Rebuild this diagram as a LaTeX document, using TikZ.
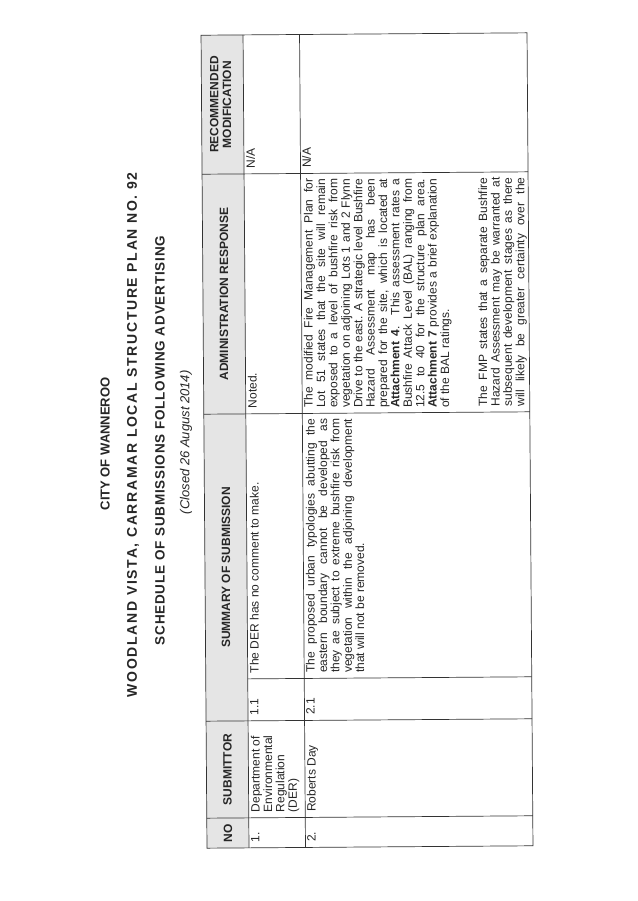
\documentclass[tikz,border=0pt]{standalone}
\usepackage{fontspec}
\setmainfont{Liberation Sans}
\newcommand{\jl}[2]{\makebox[#1][s]{#2}}
\begin{document}
\begin{tikzpicture}[x=1pt,y=-1pt,
  grid/.style={draw=black!80,line width=0.7pt},
  hdr/.style={rotate=90,font=\fontsize{12}{12.8}\selectfont\bfseries,align=center,inner sep=0pt,text=black!85},
  cell/.style={rotate=90,anchor=north west,font=\fontsize{12}{12.4}\selectfont,align=left,inner sep=0pt,text=black!85},
  ttl/.style={rotate=90,font=\fontsize{13}{14}\selectfont\bfseries,inner sep=0pt,text=black!85}]
\useasboundingbox (0,0) rectangle (637,901);
\fill[white] (0,0) rectangle (637,901);
\begin{scope}[rotate around={0.42:(367,440)}]
% titles
\node[ttl] (t1) at (105,442) {CITY OF WANNEROO};
\node[ttl,font=\fontsize{14}{15}\selectfont\bfseries] (t2) at (133,433) {\addfontfeatures{LetterSpace=12}WOODLAND VISTA, CARRAMAR LOCAL STRUCTURE PLAN NO. 92};
\node[ttl,font=\fontsize{13.5}{15}\selectfont\bfseries] (t3) at (160,439) {\addfontfeatures{LetterSpace=6}SCHEDULE OF SUBMISSIONS FOLLOWING ADVERTISING};
\node[ttl,font=\fontsize{13}{14}\selectfont\itshape] (t4) at (186,441) {(Closed 26 August 2014)};
% header fill and grid
\fill[black!10] (204,34) rectangle (246,847);
\draw[grid] (204,34) rectangle (530,847);
\draw[grid] (246,34) -- (246,847);
\draw[grid] (302.5,34) -- (302.5,847);
\draw[grid] (204,173) -- (530,173);
\draw[grid] (204,413) -- (530,413);
\draw[grid] (246,678) -- (530,678);
\draw[grid] (204,720) -- (530,720);
\draw[grid] (204,817) -- (530,817);
% header texts
\node[hdr] (hno) at (225,832) {NO};
\node[hdr] (hsub) at (225,768.5) {SUBMITTOR};
\node[hdr] (hsum) at (225,566.5) {SUMMARY OF SUBMISSION};
\node[hdr] (hadm) at (225,293) {ADMINISTRATION RESPONSE};
\node[hdr] (hrec) at (223,103.5) {RECOMMENDED\\MODIFICATION};
% row 1
\node[cell] (n1) at (248,841.5) {1.};
\node[cell] (s1) at (248,811.5) {Department of\\Environmental\\Regulation\\(DER)};
\node[cell] (k1) at (248,714.5) {1.1};
\node[cell] (m1) at (248,672.5) {The DER has no comment to make.};
\node[cell] (a1) at (248,407.5) {Noted.};
\node[cell] (r1) at (248,167.5) {N/A};
% row 2
\node[cell] (n2) at (304,841.5) {2.};
\node[cell] (s2) at (304,811.5) {Roberts Day};
\node[cell] (k2) at (304,714.5) {2.1};
\node[cell] (m2) at (304,672.5) {\jl{254pt}{The proposed urban typologies abutting the}\\
\jl{254pt}{eastern boundary cannot be developed as}\\
\jl{254pt}{they ae subject to extreme bushfire risk from}\\
\jl{254pt}{vegetation within the adjoining development}\\
that will not be removed.};
\node[cell] (a2) at (304,407.5) {\jl{229pt}{The modified Fire Management Plan for}\\
\jl{229pt}{Lot 51 states that the site will remain}\\
\jl{229pt}{exposed to a level of bushfire risk from}\\
\jl{229pt}{vegetation on adjoining Lots 1 and 2 Flynn}\\
\jl{229pt}{Drive to the east. A strategic level Bushfire}\\
\jl{229pt}{Hazard Assessment map has been}\\
\jl{229pt}{prepared for the site, which is located at}\\
\jl{229pt}{\textbf{Attachment 4}. This assessment rates a}\\
\jl{229pt}{Bushfire Attack Level (BAL) ranging from}\\
\jl{229pt}{12.5 to 40 for the structure plan area.}\\
\jl{229pt}{\textbf{Attachment 7} provides a brief explanation}\\
of the BAL ratings.};
\node[cell] (a3) at (478.5,407.5) {\jl{229pt}{The FMP states that a separate Bushfire}\\
\jl{229pt}{Hazard Assessment may be warranted at}\\
\jl{229pt}{subsequent development stages as there}\\
\jl{229pt}{will likely be greater certainty over the}};
\node[cell] (r2) at (304,167.5) {N/A};
\end{scope}
\end{tikzpicture}
\end{document}
